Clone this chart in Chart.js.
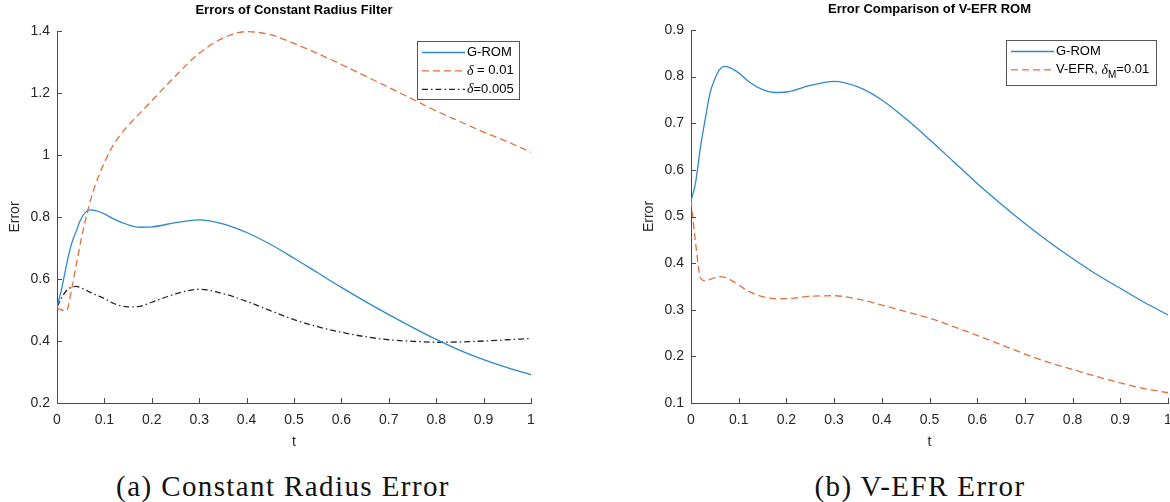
<!DOCTYPE html>
<html>
<head>
<meta charset="utf-8">
<script src="https://cdn.jsdelivr.net/npm/chart.js@4.4.1/dist/chart.umd.min.js"></script>
<style>
  html, body { margin: 0; padding: 0; background: #fff; overflow: hidden; width: 1170px; height: 502px; }
  #wrapA { position: absolute; left: 0; top: 0; width: 585px; height: 455px; }
  #wrapB { position: absolute; left: 585px; top: 0; width: 600px; height: 455px; }
  .cap { position: absolute; top: 470px; line-height: 32px; font-family: "Liberation Serif", serif; font-size: 29px; letter-spacing: 1.4px; color: #111; white-space: nowrap; transform: translateX(-50%); }
</style>
</head>
<body>
<div id="wrapA"><canvas id="chartA" width="585" height="455"></canvas></div>
<div id="wrapB"><canvas id="chartB" width="600" height="455"></canvas></div>
<div class="cap" style="left:283px">(a) Constant Radius Error</div>
<div class="cap" style="left:920px">(b) V-EFR Error</div>
<script>
// sample times (shared by all curves)
const tGrid = [0, 0.01, 0.02, 0.03, 0.04, 0.05, 0.06, 0.07, 0.08, 0.1, 0.12, 0.15, 0.175, 0.2, 0.25,
  0.3, 0.35, 0.4, 0.45, 0.5, 0.55, 0.6, 0.65, 0.7, 0.75, 0.8, 0.85, 0.9, 0.95, 1.0];

// (a) constant radius filter
const gromA = [0.51, 0.57, 0.645, 0.71, 0.752, 0.792, 0.815, 0.823, 0.821, 0.810, 0.793, 0.775, 0.767, 0.768, 0.782,
  0.791, 0.778, 0.750, 0.712, 0.667, 0.620, 0.573, 0.528, 0.485, 0.444, 0.405, 0.370, 0.340, 0.314, 0.291];
const delta01 = [0.506, 0.500, 0.498, 0.56, 0.64, 0.72, 0.79, 0.85, 0.90, 0.975, 1.035, 1.095, 1.135, 1.175, 1.255,
  1.328, 1.377, 1.398, 1.388, 1.360, 1.327, 1.292, 1.255, 1.218, 1.180, 1.142, 1.108, 1.074, 1.043, 1.009];
const delta005 = [0.51, 0.54, 0.562, 0.573, 0.576, 0.572, 0.565, 0.557, 0.550, 0.537, 0.521, 0.510, 0.512, 0.525, 0.552,
  0.567, 0.553, 0.528, 0.498, 0.469, 0.446, 0.428, 0.414, 0.404, 0.399, 0.396, 0.397, 0.400, 0.404, 0.408];

// (b) V-EFR comparison
const gromB = [0.533, 0.575, 0.65, 0.71, 0.765, 0.795, 0.815, 0.822, 0.820, 0.808, 0.790, 0.772, 0.766, 0.767, 0.781,
  0.790, 0.778, 0.750, 0.710, 0.665, 0.618, 0.571, 0.527, 0.485, 0.446, 0.410, 0.376, 0.346, 0.316, 0.289];
const vefr = [0.535, 0.44, 0.368, 0.362, 0.365, 0.369, 0.371, 0.370, 0.366, 0.353, 0.340, 0.328, 0.324, 0.324, 0.329,
  0.330, 0.323, 0.310, 0.296, 0.282, 0.264, 0.245, 0.225, 0.205, 0.187, 0.172, 0.157, 0.143, 0.131, 0.122];

const xTicks = [0, 0.1, 0.2, 0.3, 0.4, 0.5, 0.6, 0.7, 0.8, 0.9, 1];
const yTicksA = [0.2, 0.4, 0.6, 0.8, 1, 1.2, 1.4];
const yTicksB = [0.1, 0.2, 0.3, 0.4, 0.5, 0.6, 0.7, 0.8, 0.9];

const BLUE = '#2f87cf';
const ORANGE = '#e2703e';
const BLACK = '#262626';
const AXIS = '#4a4a4a';
const TEXT = '#262626';
const SANS = '"Liberation Sans", Arial, sans-serif';
const SERIF = '"Liberation Serif", serif';

function pts(ys) { return tGrid.map((t, i) => ({ x: t, y: ys[i] })); }

function line(label, ys, color, dash, parts) {
  return {
    label, data: pts(ys), borderColor: color, borderWidth: 1.3, borderDash: dash,
    pointRadius: 0, fill: false, cubicInterpolationMode: 'monotone', legendParts: parts,
  };
}

// inward ticks, title and a boxed legend like the original figure
const matlabExtras = {
  id: 'matlabExtras',
  afterDraw(chart, args, opts) {
    const { ctx, chartArea } = chart;
    const x = chart.scales.x, y = chart.scales.y;
    ctx.save();
    ctx.strokeStyle = AXIS;
    ctx.lineWidth = 1;
    ctx.setLineDash([]);
    ctx.beginPath();
    x.ticks.forEach(t => {
      const px = Math.round(x.getPixelForValue(t.value)) + 0.5;
      ctx.moveTo(px, chartArea.bottom); ctx.lineTo(px, chartArea.bottom - 5);
    });
    y.ticks.forEach(t => {
      const py = Math.round(y.getPixelForValue(t.value)) + 0.5;
      ctx.moveTo(chartArea.left, py); ctx.lineTo(chartArea.left + 5, py);
    });
    ctx.stroke();

    ctx.fillStyle = '#000';
    ctx.font = 'bold 13px ' + SANS;
    ctx.textAlign = 'center';
    ctx.textBaseline = 'middle';
    ctx.fillText(opts.title, (chartArea.left + chartArea.right) / 2, chartArea.top - 21);

    // legend box
    const lg = opts.legend;
    const bx = chartArea.right - lg.rightGap - lg.w, by = chartArea.top + 10;
    ctx.fillStyle = '#fff';
    ctx.fillRect(bx, by, lg.w, lg.h);
    ctx.strokeStyle = '#555';
    ctx.lineWidth = 1;
    ctx.strokeRect(Math.round(bx) + 0.5, Math.round(by) + 0.5, lg.w, lg.h);
    chart.data.datasets.forEach((ds, i) => {
      const ry = by + 11.5 + i * 18.4;
      ctx.strokeStyle = ds.borderColor;
      ctx.lineWidth = ds.borderWidth;
      ctx.setLineDash(ds.borderDash || []);
      ctx.beginPath();
      ctx.moveTo(bx + 5, ry); ctx.lineTo(bx + 48, ry);
      ctx.stroke();
      ctx.setLineDash([]);
      let tx = bx + 50;
      ctx.textAlign = 'left';
      ctx.textBaseline = 'middle';
      ctx.fillStyle = '#000';
      ds.legendParts.forEach(p => {
        if (p.it) ctx.font = 'italic 14px ' + SERIF;
        else if (p.sub) ctx.font = '10px ' + SANS;
        else ctx.font = '13px ' + SANS;
        ctx.fillText(p.t, tx, p.sub ? ry + 5 : ry);
        tx += ctx.measureText(p.t).width;
      });
    });
    ctx.restore();
  }
};

function makeChart(id, datasets, yTicks, yMin, yMax, padding, title, legend) {
  return new Chart(document.getElementById(id), {
    type: 'line',
    data: { datasets },
    plugins: [matlabExtras],
    options: {
      responsive: false,
      animation: false,
      layout: { padding },
      plugins: {
        legend: { display: false },
        tooltip: { enabled: false },
        matlabExtras: { title, legend },
      },
      scales: {
        x: {
          type: 'linear', min: 0, max: 1,
          afterBuildTicks: s => { s.ticks = xTicks.map(v => ({ value: v })); },
          afterFit: s => { s.height = 48; },
          ticks: { callback: v => String(v), font: { family: SANS, size: 14 }, color: TEXT, padding: 9, maxRotation: 0, autoSkip: false },
          grid: { display: true, drawOnChartArea: false, drawTicks: false },
          border: { display: true, color: AXIS, width: 1 },
          title: { display: true, text: 't', font: { family: SANS, size: 14 }, color: TEXT, padding: 0 },
        },
        y: {
          type: 'linear', min: yMin, max: yMax,
          afterBuildTicks: s => { s.ticks = yTicks.map(v => ({ value: v })); },
          afterFit: s => { s.width = 57; },
          ticks: { callback: v => String(v), font: { family: SANS, size: 14 }, color: TEXT, padding: 7, autoSkip: false },
          grid: { display: true, drawOnChartArea: false, drawTicks: false },
          border: { display: true, color: AXIS, width: 1 },
          title: { display: true, text: 'Error', font: { family: SANS, size: 14 }, color: TEXT, padding: { top: 7, bottom: 0 } },
        },
      },
    },
  });
}

makeChart('chartA', [
  line('G-ROM', gromA, BLUE, [], [{ t: 'G-ROM' }]),
  line('δ = 0.01', delta01, ORANGE, [7, 4], [{ t: 'δ', it: true }, { t: ' = 0.01' }]),
  line('δ=0.005', delta005, BLACK, [6, 3, 1.5, 3], [{ t: 'δ', it: true }, { t: '=0.005' }]),
], yTicksA, 0.2, 1.4, { left: 0, right: 54, top: 31, bottom: 4 },
  'Errors of Constant Radius Filter', { w: 102, h: 58, rightGap: 12 });

makeChart('chartB', [
  line('G-ROM', gromB, BLUE, [], [{ t: 'G-ROM' }]),
  line('V-EFR, δM=0.01', vefr, ORANGE, [7, 4], [{ t: 'V-EFR, ' }, { t: 'δ', it: true }, { t: 'M', sub: true }, { t: '=0.01' }]),
], yTicksB, 0.1, 0.9, { left: 49, right: 17, top: 30, bottom: 4 },
  'Error Comparison of V-EFR ROM', { w: 150, h: 45, rightGap: 12 });
</script>
</body>
</html>
